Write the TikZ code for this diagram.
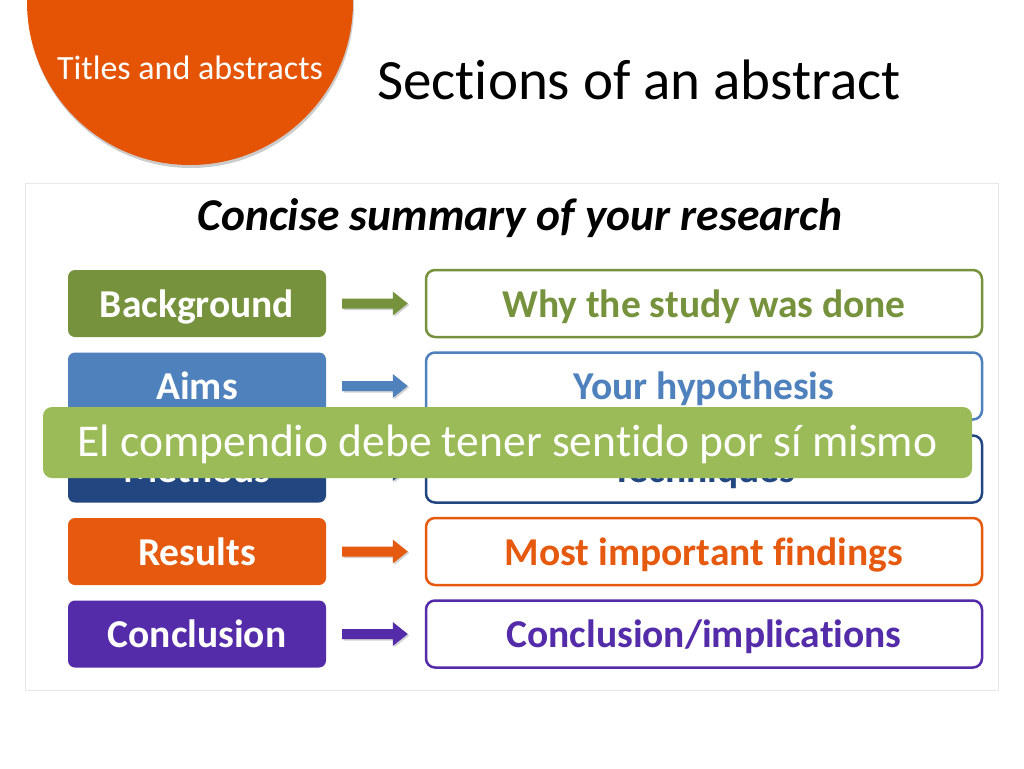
\documentclass[tikz,border=0pt]{standalone}
\usepackage{fontspec}
\setmainfont{Carlito}[Ligatures=NoCommon]
\usetikzlibrary{shadows,calc}
\definecolor{circorange}{RGB}{228,84,4}
\definecolor{cgreen}{RGB}{118,146,60}
\definecolor{cblue}{RGB}{79,129,189}
\definecolor{cnavy}{RGB}{33,70,128}
\definecolor{corange}{RGB}{230,90,15}
\definecolor{cpurple}{RGB}{84,44,170}
\definecolor{overgreen}{RGB}{155,187,89}
\definecolor{panelgray}{RGB}{232,232,232}
\tikzset{
  leftbox/.style={rounded corners=7pt, minimum width=258pt, minimum height=67pt, inner sep=0pt, text height=27pt, text depth=0pt, text=white, font=\fontsize{39.5}{42}\selectfont\bfseries},
  rightbox/.style={rounded corners=9pt, draw, line width=2.5pt, fill=white, minimum width=556pt, minimum height=67pt, inner sep=0pt, text height=27pt, text depth=0pt, font=\fontsize{39.5}{42}\selectfont\bfseries},
  blockarrow/.style={drop shadow={shadow xshift=1.5pt, shadow yshift=-1.5pt, opacity=0.35}}
}
\newcommand{\blockarr}[3]{%
  \fill[#3, blockarrow] ($(#1.east)+(16,5)$) -- ($(#2.west)+(-32,5)$) -- ($(#2.west)+(-32,12)$) -- ($(#2.west)+(-17,0)$) -- ($(#2.west)+(-32,-12)$) -- ($(#2.west)+(-32,-5)$) -- ($(#1.east)+(16,-5)$) -- cycle;}
\begin{document}
\begin{tikzpicture}[x=1pt,y=-1pt]
\useasboundingbox (0,0) rectangle (1024,768);
\fill[white] (0,0) rectangle (1024,768);
\begin{scope}
\clip (0,0) rectangle (1024,768);
\fill[circorange, drop shadow={shadow xshift=1pt, shadow yshift=-3pt, opacity=0.4}] (190,2) circle (163);
\end{scope}
\node[text=white, inner sep=0pt, text height=22pt, text depth=0pt, font=\fontsize{34}{37}\selectfont] (tag) at (190,68) {Titles and abstracts};
\node[anchor=west, font=\fontsize{57}{62}\selectfont, inner sep=0pt] (title) at (377,80) {Sections of an abstract};
\draw[panelgray, line width=1pt] (25,183) rectangle (998,690);
\node[font=\fontsize{45.5}{50}\selectfont\bfseries\itshape] (sub) at (520,218) {Concise summary of your research};

\node[leftbox, fill=cgreen] (l1) at (197,303.5) {Background};
\node[leftbox, fill=cblue] (l2) at (197,386) {Aims};
\node[leftbox, fill=cnavy] (l3) at (197,469) {Methods};
\node[leftbox, fill=corange] (l4) at (197,551.5) {Results};
\node[leftbox, fill=cpurple] (l5) at (197,634) {Conclusion};

\node[rightbox, draw=cgreen, text=cgreen] (r1) at (704,303.5) {Why the study was done};
\node[rightbox, draw=cblue, text=cblue] (r2) at (704,386) {Your hypothesis};
\node[rightbox, draw=cnavy, text=cnavy] (r3) at (704,469) {Techniques};
\node[rightbox, draw=corange, text=corange] (r4) at (704,551.5) {Most important findings};
\node[rightbox, draw=cpurple, text=cpurple] (r5) at (704,634) {Conclusion/implications};

\blockarr{l1}{r1}{cgreen}
\blockarr{l2}{r2}{cblue}
\blockarr{l3}{r3}{cnavy}
\blockarr{l4}{r4}{corange}
\blockarr{l5}{r5}{cpurple}

\node[fill=overgreen, rounded corners=9pt, minimum width=929pt, minimum height=71pt, inner sep=0pt, text height=28pt, text depth=0pt, text=white, font=\fontsize{45.5}{50}\selectfont] (note) at (507.5,442.5) {El compendio debe tener sentido por sí mismo};
\end{tikzpicture}
\end{document}
